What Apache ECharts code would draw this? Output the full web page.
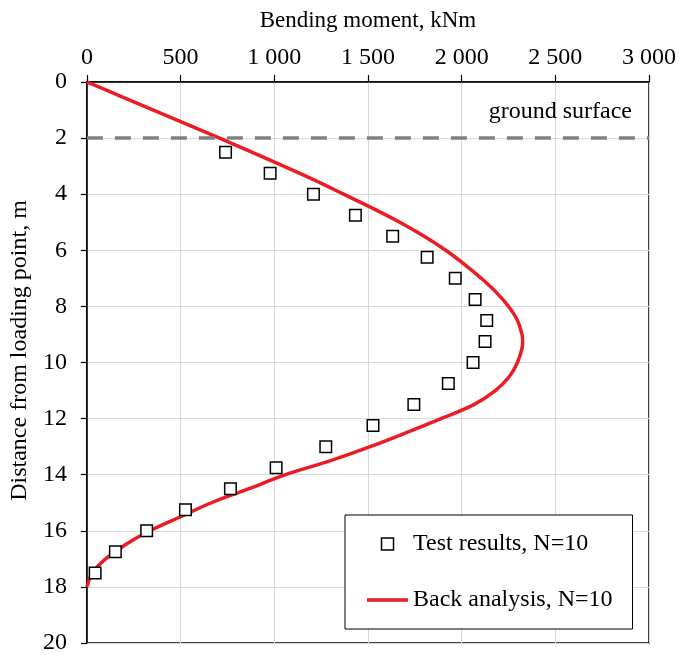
<!DOCTYPE html>
<html>
<head>
<meta charset="utf-8">
<title>Bending moment profile</title>
<script src="https://cdn.jsdelivr.net/npm/echarts@6/dist/echarts.min.js"></script>
<style>
  html, body { margin: 0; padding: 0; background: #fff; }
  #chart { width: 679px; height: 655px; }
</style>
</head>
<body>
<div id="chart"></div>
<script>
// Measured bending moments (kNm) against depth from the loading point (m)
const testDepth  = [2.5, 3.25, 4.0, 4.75, 5.5, 6.25, 7.0, 7.75, 8.5, 9.25, 10.0,
                    10.75, 11.5, 12.25, 13.0, 13.75, 14.5, 15.25, 16.0, 16.75, 17.5];
const testMoment = [740, 978, 1209, 1433, 1632, 1816, 1966, 2072, 2134, 2125, 2061,
                    1929, 1745, 1527, 1275, 1010, 766, 526, 319, 152, 44];

// Back-analysed moment profile
const fitDepth  = [0, 0.5, 1.0, 1.5, 2.0, 2.5, 3.0, 3.5, 4.0, 4.5, 5.0, 5.5, 6.0, 6.5,
                   7.0, 7.5, 8.0, 8.5, 9.0, 9.25, 9.5, 10.0, 10.5, 11.0, 11.5, 12.0,
                   12.5, 13.0, 13.5, 14.0, 14.5, 15.0, 15.5, 16.0, 16.5, 17.0, 17.5, 18.0];
const fitMoment = [0, 178, 355, 532, 708, 880, 1050, 1215, 1370, 1525, 1670, 1800, 1915, 2015,
                   2105, 2185, 2250, 2298, 2322, 2326, 2322, 2298, 2255, 2180, 2065, 1890,
                   1705, 1512, 1300, 1060, 865, 665, 500, 335, 205, 100, 30, 0];

// Ground surface level (m)
const groundDepth = 2;

const xTicks = { min: 0, max: 3000, step: 500 };
const yTicks = { min: 0, max: 20, step: 2 };

const testName = 'Test results, N=10';
const fitName  = 'Back analysis, N=10';

const FONT = '"Liberation Serif", "Times New Roman", serif';
const txt = { fontFamily: FONT, fontSize: 24, color: '#000' };

const withSpaces = v => String(v).replace(/\B(?=(\d{3})+(?!\d))/g, ' ');

const chart = echarts.init(document.getElementById('chart'), null, { renderer: 'canvas' });

chart.setOption({
  animation: false,
  backgroundColor: '#fff',
  grid: {
    left: 83, right: 30, top: 82, bottom: 10,
    show: true, borderColor: '#000', borderWidth: 1.5, backgroundColor: 'transparent'
  },
  xAxis: {
    type: 'value', position: 'top',
    min: xTicks.min, max: xTicks.max, interval: xTicks.step,
    name: 'Bending moment, kNm', nameLocation: 'middle', nameGap: 50,
    nameTextStyle: Object.assign({}, txt, { fontSize: 23 }),
    axisLine: { show: true, lineStyle: { color: '#000', width: 1.5 } },
    axisTick: { show: true, inside: false, length: 7, lineStyle: { color: '#000', width: 1.2 } },
    axisLabel: Object.assign({ margin: 12, formatter: withSpaces }, txt),
    splitLine: { show: true, lineStyle: { color: '#d9d9d9', width: 1 } }
  },
  yAxis: {
    type: 'value', inverse: true,
    min: yTicks.min, max: yTicks.max, interval: yTicks.step,
    name: 'Distance from loading point, m', nameLocation: 'middle', nameGap: 50,
    nameTextStyle: Object.assign({}, txt, { padding: [0, 0, 0, 24] }),
    axisLine: { show: true, lineStyle: { color: '#000', width: 1.5 } },
    axisTick: { show: true, inside: false, length: 6, lineStyle: { color: '#000', width: 1.2 } },
    axisLabel: Object.assign({ margin: 20 }, txt),
    splitLine: { show: true, lineStyle: { color: '#d9d9d9', width: 1 } }
  },
  legend: {
    orient: 'vertical',
    left: 345, top: 515,
    padding: [17, 20, 17, 22],
    itemGap: 32,
    itemWidth: 41, itemHeight: 12,
    symbolKeepAspect: true,
    backgroundColor: '#fff',
    borderColor: '#000', borderWidth: 1,
    textStyle: txt,
    data: [
      { name: testName, icon: 'path://M0,0H11V11H0Z', symbolKeepAspect: true,
        itemStyle: { color: '#fff', borderColor: '#000', borderWidth: 1.5 } },
      { name: fitName, icon: 'path://M0,0H41V3.5H0Z', symbolKeepAspect: true,
        itemStyle: { color: '#ed1c24', borderWidth: 0 } }
    ]
  },
  series: [
    {
      name: fitName,
      type: 'line',
      smooth: 0.4,
      symbol: 'none',
      z: 3,
      lineStyle: { color: '#ed1c24', width: 3.5 },
      itemStyle: { color: '#ed1c24' },
      data: fitDepth.map((d, i) => [fitMoment[i], d]),
      markLine: {
        silent: true,
        symbol: 'none',
        animation: false,
        lineStyle: { color: '#808080', type: [16, 12], width: 3.5 },
        label: Object.assign({
          show: true, position: 'insideEndTop',
          formatter: 'ground surface', distance: [17, 14]
        }, txt),
        data: [{ yAxis: groundDepth }]
      }
    },
    {
      name: testName,
      type: 'scatter',
      symbol: 'rect',
      symbolSize: 11.5,
      z: 5,
      itemStyle: { color: '#fff', borderColor: '#000', borderWidth: 1.5, opacity: 1 },
      data: testDepth.map((d, i) => [testMoment[i], d])
    }
  ]
});
</script>
</body>
</html>
